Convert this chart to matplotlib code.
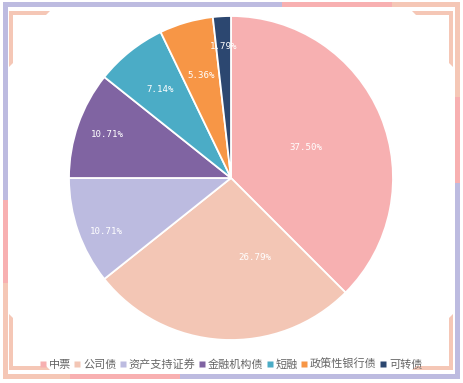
import numpy as np
import matplotlib
matplotlib.use("Agg")
import matplotlib.pyplot as plt
from matplotlib.patches import Rectangle, Polygon
from matplotlib.lines import Line2D

plt.rcParams['font.family'] = ['Noto Sans CJK SC', 'DejaVu Sans']

categories = ["中票", "公司债", "资产支持证券", "金融机构债", "短融", "政策性银行债", "可转债"]
shares = [37.50, 26.79, 10.71, 10.71, 7.14, 5.36, 1.79]
colors = ["#F7B0B1", "#F3C6B5", "#BCBBE0", "#8064A2", "#4BACC6", "#F79646", "#2C4770"]
# label placement: radius fraction and small angle tweak (deg, clockwise)
label_r = [0.50, 0.515, 0.84, 0.81, 0.70, 0.66, 0.815]
label_shift = [0, -20, -4, 0, 0, 0, 0]

W, H = 463, 383
fig = plt.figure(figsize=(W / 100, H / 100), dpi=100)

# decoration layer in pixel coords
deco = fig.add_axes([0, 0, 1, 1])
deco.set_xlim(0, W)
deco.set_ylim(H, 0)
deco.axis("off")

lav, pink, peach = "#BDBBE0", "#F8B0B1", "#F5C7B6"
t = 5
x0, x1, y0, y1 = 3, 460, 2, 379
segs = [
    # top
    (x0, y0, 282 - x0, t, lav), (282, y0, 392 - 282, t, pink), (392, y0, x1 - 392, t, peach),
    # right
    (x1 - t, y0, t, 97 - y0, peach), (x1 - t, 97, t, 183 - 97, pink), (x1 - t, 183, t, y1 - 183, lav),
    # bottom
    (x0, y1 - t, 70 - x0, t, peach), (70, y1 - t, 180 - 70, t, pink), (180, y1 - t, x1 - 180, t, lav),
    # left
    (x0, y0, t, 200 - y0, lav), (x0, 200, t, 283 - 200, pink), (x0, 283, t, y1 - 283, peach),
]
for x, y, w, h, c in segs:
    deco.add_patch(Rectangle((x, y), w, h, facecolor=c, edgecolor="none"))

# corner brackets
def bracket(cx, cy, sx, sy):
    L, th, arm = 41, 4, 56
    deco.add_patch(Polygon([(cx, cy), (cx + sx * L, cy), (cx + sx * (L - th), cy + sy * th),
                            (cx + sx * th, cy + sy * th), (cx + sx * th, cy + sy * (arm - th)),
                            (cx, cy + sy * arm)], closed=True, facecolor=peach, edgecolor="none"))

bracket(9, 11, 1, 1)
bracket(453, 11, -1, 1)
bracket(9, 370, 1, -1)
bracket(453, 370, -1, -1)

# pie
cx, cy, r = 231, 178, 162
ax = fig.add_axes([(cx - r) / W, (H - cy - r) / H, 2 * r / W, 2 * r / H])
wedges, _ = ax.pie(shares, colors=colors, startangle=90, counterclock=False,
                   wedgeprops=dict(edgecolor="white", linewidth=1.3))
ax.set_xlim(-1, 1)
ax.set_ylim(-1, 1)
ax.set_aspect("auto")
ax.axis("off")

cum = np.cumsum([0] + shares[:-1])
for i, v in enumerate(shares):
    ang = np.deg2rad((cum[i] + v / 2) / 100 * 360 + label_shift[i])
    ax.text(label_r[i] * np.sin(ang), label_r[i] * np.cos(ang), f"{v:.2f}%",
            color="white", fontsize=6.6, family="DejaVu Sans Mono",
            ha="center", va="center")

handles = [Line2D([], [], marker="s", linestyle="none", markersize=4.5,
                  markerfacecolor=c, markeredgecolor="none") for c in colors]
fig.legend(handles, categories, loc="center", bbox_to_anchor=(0.5, 1 - 364 / H),
           ncol=len(categories), frameon=False, fontsize=8, labelcolor="#666666",
           handlelength=0.45, handletextpad=0.3, columnspacing=0.35, borderpad=0)

fig.savefig("out.png", dpi=100, facecolor="white")
